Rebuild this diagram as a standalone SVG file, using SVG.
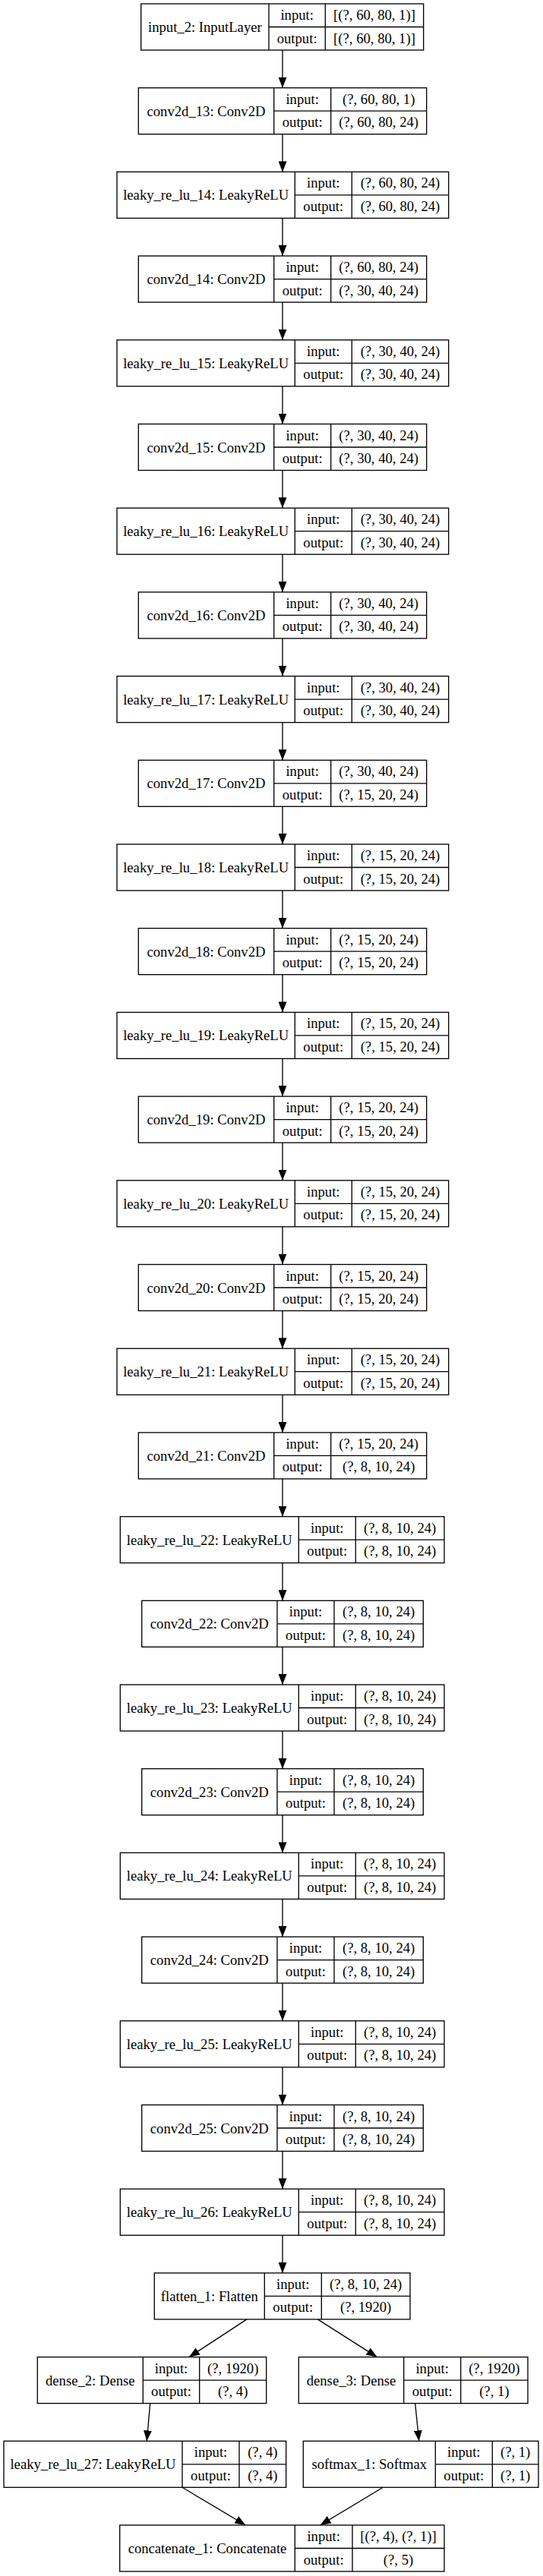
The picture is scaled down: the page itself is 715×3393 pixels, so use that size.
<svg xmlns="http://www.w3.org/2000/svg" width="715" height="3393" viewBox="0 0 715 3393">
<style>
.n rect{fill:#fff;stroke:#000;stroke-width:1.33}
.n path{fill:none;stroke:#000;stroke-width:1.33}
text{font-family:"Liberation Serif","Times New Roman",serif;font-size:18.67px;text-anchor:middle;fill:#000}
#edges line{stroke:#000;stroke-width:1.33;marker-end:url(#ah)}
</style>
<defs>
<marker id="ah" markerUnits="userSpaceOnUse" markerWidth="14" markerHeight="11" refX="14" refY="5.5" orient="auto"><path d="M0,0 L14,5.5 L0,11 z" fill="#000"/></marker>
</defs>
<rect width="715" height="3393" fill="#fff"/>
<g id="edges">
<line x1="372" y1="66" x2="372" y2="115.7"/>
<line x1="372" y1="176.7" x2="372" y2="226.4"/>
<line x1="372" y1="287.4" x2="372" y2="337.1"/>
<line x1="372" y1="398.1" x2="372" y2="447.8"/>
<line x1="372" y1="508.8" x2="372" y2="558.5"/>
<line x1="372" y1="619.5" x2="372" y2="669.2"/>
<line x1="372" y1="730.2" x2="372" y2="779.9"/>
<line x1="372" y1="840.9" x2="372" y2="890.6"/>
<line x1="372" y1="951.6" x2="372" y2="1001.3"/>
<line x1="372" y1="1062.3" x2="372" y2="1112"/>
<line x1="372" y1="1173" x2="372" y2="1222.7"/>
<line x1="372" y1="1283.7" x2="372" y2="1333.4"/>
<line x1="372" y1="1394.4" x2="372" y2="1444.1"/>
<line x1="372" y1="1505.1" x2="372" y2="1554.8"/>
<line x1="372" y1="1615.8" x2="372" y2="1665.5"/>
<line x1="372" y1="1726.5" x2="372" y2="1776.2"/>
<line x1="372" y1="1837.2" x2="372" y2="1886.9"/>
<line x1="372" y1="1947.9" x2="372" y2="1997.6"/>
<line x1="372" y1="2058.6" x2="372" y2="2108.3"/>
<line x1="372" y1="2169.3" x2="372" y2="2219"/>
<line x1="372" y1="2280" x2="372" y2="2329.7"/>
<line x1="372" y1="2390.7" x2="372" y2="2440.4"/>
<line x1="372" y1="2501.4" x2="372" y2="2551.1"/>
<line x1="372" y1="2612.1" x2="372" y2="2661.8"/>
<line x1="372" y1="2722.8" x2="372" y2="2772.5"/>
<line x1="372" y1="2833.5" x2="372" y2="2883.2"/>
<line x1="372" y1="2944.2" x2="372" y2="2993.9"/>
<line x1="325" y1="3054.9" x2="249" y2="3104.6"/>
<line x1="418.3" y1="3054.9" x2="496.5" y2="3104.6"/>
<line x1="197.7" y1="3165.6" x2="193.3" y2="3215.3"/>
<line x1="546.7" y1="3165.6" x2="551.7" y2="3215.3"/>
<line x1="240" y1="3276.3" x2="323.3" y2="3326"/>
<line x1="504.3" y1="3276.3" x2="421.7" y2="3326"/>
</g>
<g id="input_2" class="n" transform="translate(0,5)"><rect x="185.7" y="0" width="372" height="61"/><path d="M354 0V61M428.3 0V61M354 30.5H557.7"/><text x="269.85" y="37">input_2: InputLayer</text><text x="391.15" y="21">input:</text><text x="391.15" y="51.5">output:</text><text x="493" y="21">[(?, 60, 80, 1)]</text><text x="493" y="51.5">[(?, 60, 80, 1)]</text></g>
<g id="conv2d_13" class="n" transform="translate(0,115.7)"><rect x="182.3" y="0" width="379.4" height="61"/><path d="M360.7 0V61M435.7 0V61M360.7 30.5H561.7"/><text x="271.5" y="37">conv2d_13: Conv2D</text><text x="398.2" y="21">input:</text><text x="398.2" y="51.5">output:</text><text x="498.7" y="21">(?, 60, 80, 1)</text><text x="498.7" y="51.5">(?, 60, 80, 24)</text></g>
<g id="leaky_re_lu_14" class="n" transform="translate(0,226.4)"><rect x="154" y="0" width="436.7" height="61"/><path d="M388.3 0V61M463.3 0V61M388.3 30.5H590.7"/><text x="271.2" y="37">leaky_re_lu_14: LeakyReLU</text><text x="425.8" y="21">input:</text><text x="425.8" y="51.5">output:</text><text x="527" y="21">(?, 60, 80, 24)</text><text x="527" y="51.5">(?, 60, 80, 24)</text></g>
<g id="conv2d_14" class="n" transform="translate(0,337.1)"><rect x="182.3" y="0" width="379.4" height="61"/><path d="M360.7 0V61M435.7 0V61M360.7 30.5H561.7"/><text x="271.5" y="37">conv2d_14: Conv2D</text><text x="398.2" y="21">input:</text><text x="398.2" y="51.5">output:</text><text x="498.7" y="21">(?, 60, 80, 24)</text><text x="498.7" y="51.5">(?, 30, 40, 24)</text></g>
<g id="leaky_re_lu_15" class="n" transform="translate(0,447.8)"><rect x="154" y="0" width="436.7" height="61"/><path d="M388.3 0V61M463.3 0V61M388.3 30.5H590.7"/><text x="271.2" y="37">leaky_re_lu_15: LeakyReLU</text><text x="425.8" y="21">input:</text><text x="425.8" y="51.5">output:</text><text x="527" y="21">(?, 30, 40, 24)</text><text x="527" y="51.5">(?, 30, 40, 24)</text></g>
<g id="conv2d_15" class="n" transform="translate(0,558.5)"><rect x="182.3" y="0" width="379.4" height="61"/><path d="M360.7 0V61M435.7 0V61M360.7 30.5H561.7"/><text x="271.5" y="37">conv2d_15: Conv2D</text><text x="398.2" y="21">input:</text><text x="398.2" y="51.5">output:</text><text x="498.7" y="21">(?, 30, 40, 24)</text><text x="498.7" y="51.5">(?, 30, 40, 24)</text></g>
<g id="leaky_re_lu_16" class="n" transform="translate(0,669.2)"><rect x="154" y="0" width="436.7" height="61"/><path d="M388.3 0V61M463.3 0V61M388.3 30.5H590.7"/><text x="271.2" y="37">leaky_re_lu_16: LeakyReLU</text><text x="425.8" y="21">input:</text><text x="425.8" y="51.5">output:</text><text x="527" y="21">(?, 30, 40, 24)</text><text x="527" y="51.5">(?, 30, 40, 24)</text></g>
<g id="conv2d_16" class="n" transform="translate(0,779.9)"><rect x="182.3" y="0" width="379.4" height="61"/><path d="M360.7 0V61M435.7 0V61M360.7 30.5H561.7"/><text x="271.5" y="37">conv2d_16: Conv2D</text><text x="398.2" y="21">input:</text><text x="398.2" y="51.5">output:</text><text x="498.7" y="21">(?, 30, 40, 24)</text><text x="498.7" y="51.5">(?, 30, 40, 24)</text></g>
<g id="leaky_re_lu_17" class="n" transform="translate(0,890.6)"><rect x="154" y="0" width="436.7" height="61"/><path d="M388.3 0V61M463.3 0V61M388.3 30.5H590.7"/><text x="271.2" y="37">leaky_re_lu_17: LeakyReLU</text><text x="425.8" y="21">input:</text><text x="425.8" y="51.5">output:</text><text x="527" y="21">(?, 30, 40, 24)</text><text x="527" y="51.5">(?, 30, 40, 24)</text></g>
<g id="conv2d_17" class="n" transform="translate(0,1001.3)"><rect x="182.3" y="0" width="379.4" height="61"/><path d="M360.7 0V61M435.7 0V61M360.7 30.5H561.7"/><text x="271.5" y="37">conv2d_17: Conv2D</text><text x="398.2" y="21">input:</text><text x="398.2" y="51.5">output:</text><text x="498.7" y="21">(?, 30, 40, 24)</text><text x="498.7" y="51.5">(?, 15, 20, 24)</text></g>
<g id="leaky_re_lu_18" class="n" transform="translate(0,1112)"><rect x="154" y="0" width="436.7" height="61"/><path d="M388.3 0V61M463.3 0V61M388.3 30.5H590.7"/><text x="271.2" y="37">leaky_re_lu_18: LeakyReLU</text><text x="425.8" y="21">input:</text><text x="425.8" y="51.5">output:</text><text x="527" y="21">(?, 15, 20, 24)</text><text x="527" y="51.5">(?, 15, 20, 24)</text></g>
<g id="conv2d_18" class="n" transform="translate(0,1222.7)"><rect x="182.3" y="0" width="379.4" height="61"/><path d="M360.7 0V61M435.7 0V61M360.7 30.5H561.7"/><text x="271.5" y="37">conv2d_18: Conv2D</text><text x="398.2" y="21">input:</text><text x="398.2" y="51.5">output:</text><text x="498.7" y="21">(?, 15, 20, 24)</text><text x="498.7" y="51.5">(?, 15, 20, 24)</text></g>
<g id="leaky_re_lu_19" class="n" transform="translate(0,1333.4)"><rect x="154" y="0" width="436.7" height="61"/><path d="M388.3 0V61M463.3 0V61M388.3 30.5H590.7"/><text x="271.2" y="37">leaky_re_lu_19: LeakyReLU</text><text x="425.8" y="21">input:</text><text x="425.8" y="51.5">output:</text><text x="527" y="21">(?, 15, 20, 24)</text><text x="527" y="51.5">(?, 15, 20, 24)</text></g>
<g id="conv2d_19" class="n" transform="translate(0,1444.1)"><rect x="182.3" y="0" width="379.4" height="61"/><path d="M360.7 0V61M435.7 0V61M360.7 30.5H561.7"/><text x="271.5" y="37">conv2d_19: Conv2D</text><text x="398.2" y="21">input:</text><text x="398.2" y="51.5">output:</text><text x="498.7" y="21">(?, 15, 20, 24)</text><text x="498.7" y="51.5">(?, 15, 20, 24)</text></g>
<g id="leaky_re_lu_20" class="n" transform="translate(0,1554.8)"><rect x="154" y="0" width="436.7" height="61"/><path d="M388.3 0V61M463.3 0V61M388.3 30.5H590.7"/><text x="271.2" y="37">leaky_re_lu_20: LeakyReLU</text><text x="425.8" y="21">input:</text><text x="425.8" y="51.5">output:</text><text x="527" y="21">(?, 15, 20, 24)</text><text x="527" y="51.5">(?, 15, 20, 24)</text></g>
<g id="conv2d_20" class="n" transform="translate(0,1665.5)"><rect x="182.3" y="0" width="379.4" height="61"/><path d="M360.7 0V61M435.7 0V61M360.7 30.5H561.7"/><text x="271.5" y="37">conv2d_20: Conv2D</text><text x="398.2" y="21">input:</text><text x="398.2" y="51.5">output:</text><text x="498.7" y="21">(?, 15, 20, 24)</text><text x="498.7" y="51.5">(?, 15, 20, 24)</text></g>
<g id="leaky_re_lu_21" class="n" transform="translate(0,1776.2)"><rect x="154" y="0" width="436.7" height="61"/><path d="M388.3 0V61M463.3 0V61M388.3 30.5H590.7"/><text x="271.2" y="37">leaky_re_lu_21: LeakyReLU</text><text x="425.8" y="21">input:</text><text x="425.8" y="51.5">output:</text><text x="527" y="21">(?, 15, 20, 24)</text><text x="527" y="51.5">(?, 15, 20, 24)</text></g>
<g id="conv2d_21" class="n" transform="translate(0,1886.9)"><rect x="182.3" y="0" width="379.4" height="61"/><path d="M360.7 0V61M435.7 0V61M360.7 30.5H561.7"/><text x="271.5" y="37">conv2d_21: Conv2D</text><text x="398.2" y="21">input:</text><text x="398.2" y="51.5">output:</text><text x="498.7" y="21">(?, 15, 20, 24)</text><text x="498.7" y="51.5">(?, 8, 10, 24)</text></g>
<g id="leaky_re_lu_22" class="n" transform="translate(0,1997.6)"><rect x="158.3" y="0" width="426.7" height="61"/><path d="M393.3 0V61M468.3 0V61M393.3 30.5H585"/><text x="275.8" y="37">leaky_re_lu_22: LeakyReLU</text><text x="430.8" y="21">input:</text><text x="430.8" y="51.5">output:</text><text x="526.65" y="21">(?, 8, 10, 24)</text><text x="526.65" y="51.5">(?, 8, 10, 24)</text></g>
<g id="conv2d_22" class="n" transform="translate(0,2108.3)"><rect x="186.7" y="0" width="370.6" height="61"/><path d="M365 0V61M440 0V61M365 30.5H557.3"/><text x="275.85" y="37">conv2d_22: Conv2D</text><text x="402.5" y="21">input:</text><text x="402.5" y="51.5">output:</text><text x="498.65" y="21">(?, 8, 10, 24)</text><text x="498.65" y="51.5">(?, 8, 10, 24)</text></g>
<g id="leaky_re_lu_23" class="n" transform="translate(0,2219)"><rect x="158.3" y="0" width="426.7" height="61"/><path d="M393.3 0V61M468.3 0V61M393.3 30.5H585"/><text x="275.8" y="37">leaky_re_lu_23: LeakyReLU</text><text x="430.8" y="21">input:</text><text x="430.8" y="51.5">output:</text><text x="526.65" y="21">(?, 8, 10, 24)</text><text x="526.65" y="51.5">(?, 8, 10, 24)</text></g>
<g id="conv2d_23" class="n" transform="translate(0,2329.7)"><rect x="186.7" y="0" width="370.6" height="61"/><path d="M365 0V61M440 0V61M365 30.5H557.3"/><text x="275.85" y="37">conv2d_23: Conv2D</text><text x="402.5" y="21">input:</text><text x="402.5" y="51.5">output:</text><text x="498.65" y="21">(?, 8, 10, 24)</text><text x="498.65" y="51.5">(?, 8, 10, 24)</text></g>
<g id="leaky_re_lu_24" class="n" transform="translate(0,2440.4)"><rect x="158.3" y="0" width="426.7" height="61"/><path d="M393.3 0V61M468.3 0V61M393.3 30.5H585"/><text x="275.8" y="37">leaky_re_lu_24: LeakyReLU</text><text x="430.8" y="21">input:</text><text x="430.8" y="51.5">output:</text><text x="526.65" y="21">(?, 8, 10, 24)</text><text x="526.65" y="51.5">(?, 8, 10, 24)</text></g>
<g id="conv2d_24" class="n" transform="translate(0,2551.1)"><rect x="186.7" y="0" width="370.6" height="61"/><path d="M365 0V61M440 0V61M365 30.5H557.3"/><text x="275.85" y="37">conv2d_24: Conv2D</text><text x="402.5" y="21">input:</text><text x="402.5" y="51.5">output:</text><text x="498.65" y="21">(?, 8, 10, 24)</text><text x="498.65" y="51.5">(?, 8, 10, 24)</text></g>
<g id="leaky_re_lu_25" class="n" transform="translate(0,2661.8)"><rect x="158.3" y="0" width="426.7" height="61"/><path d="M393.3 0V61M468.3 0V61M393.3 30.5H585"/><text x="275.8" y="37">leaky_re_lu_25: LeakyReLU</text><text x="430.8" y="21">input:</text><text x="430.8" y="51.5">output:</text><text x="526.65" y="21">(?, 8, 10, 24)</text><text x="526.65" y="51.5">(?, 8, 10, 24)</text></g>
<g id="conv2d_25" class="n" transform="translate(0,2772.5)"><rect x="186.7" y="0" width="370.6" height="61"/><path d="M365 0V61M440 0V61M365 30.5H557.3"/><text x="275.85" y="37">conv2d_25: Conv2D</text><text x="402.5" y="21">input:</text><text x="402.5" y="51.5">output:</text><text x="498.65" y="21">(?, 8, 10, 24)</text><text x="498.65" y="51.5">(?, 8, 10, 24)</text></g>
<g id="leaky_re_lu_26" class="n" transform="translate(0,2883.2)"><rect x="158.3" y="0" width="426.7" height="61"/><path d="M393.3 0V61M468.3 0V61M393.3 30.5H585"/><text x="275.8" y="37">leaky_re_lu_26: LeakyReLU</text><text x="430.8" y="21">input:</text><text x="430.8" y="51.5">output:</text><text x="526.65" y="21">(?, 8, 10, 24)</text><text x="526.65" y="51.5">(?, 8, 10, 24)</text></g>
<g id="flatten_1" class="n" transform="translate(0,2993.9)"><rect x="203.3" y="0" width="336.7" height="61"/><path d="M348.3 0V61M423.3 0V61M348.3 30.5H540"/><text x="275.8" y="37">flatten_1: Flatten</text><text x="385.8" y="21">input:</text><text x="385.8" y="51.5">output:</text><text x="481.65" y="21">(?, 8, 10, 24)</text><text x="481.65" y="51.5">(?, 1920)</text></g>
<g id="dense_2" class="n" transform="translate(0,3104.6)"><rect x="49.3" y="0" width="301.4" height="61"/><path d="M188.3 0V61M262.7 0V61M188.3 30.5H350.7"/><text x="118.8" y="37">dense_2: Dense</text><text x="225.5" y="21">input:</text><text x="225.5" y="51.5">output:</text><text x="306.7" y="21">(?, 1920)</text><text x="306.7" y="51.5">(?, 4)</text></g>
<g id="dense_3" class="n" transform="translate(0,3104.6)"><rect x="393.3" y="0" width="301.7" height="61"/><path d="M531.7 0V61M606.7 0V61M531.7 30.5H695"/><text x="462.5" y="37">dense_3: Dense</text><text x="569.2" y="21">input:</text><text x="569.2" y="51.5">output:</text><text x="650.85" y="21">(?, 1920)</text><text x="650.85" y="51.5">(?, 1)</text></g>
<g id="leaky_re_lu_27" class="n" transform="translate(0,3215.3)"><rect x="5" y="0" width="371.7" height="61"/><path d="M240 0V61M315 0V61M240 30.5H376.7"/><text x="122.5" y="37">leaky_re_lu_27: LeakyReLU</text><text x="277.5" y="21">input:</text><text x="277.5" y="51.5">output:</text><text x="345.85" y="21">(?, 4)</text><text x="345.85" y="51.5">(?, 4)</text></g>
<g id="softmax_1" class="n" transform="translate(0,3215.3)"><rect x="399.3" y="0" width="309.7" height="61"/><path d="M573.3 0V61M648.3 0V61M573.3 30.5H709"/><text x="486.3" y="37">softmax_1: Softmax</text><text x="610.8" y="21">input:</text><text x="610.8" y="51.5">output:</text><text x="678.65" y="21">(?, 1)</text><text x="678.65" y="51.5">(?, 1)</text></g>
<g id="concatenate_1" class="n" transform="translate(0,3326)"><rect x="157.7" y="0" width="427.3" height="61"/><path d="M388.3 0V61M464 0V61M388.3 30.5H585"/><text x="273" y="37">concatenate_1: Concatenate</text><text x="426.15" y="21">input:</text><text x="426.15" y="51.5">output:</text><text x="524.5" y="21">[(?, 4), (?, 1)]</text><text x="524.5" y="51.5">(?, 5)</text></g>
</svg>
